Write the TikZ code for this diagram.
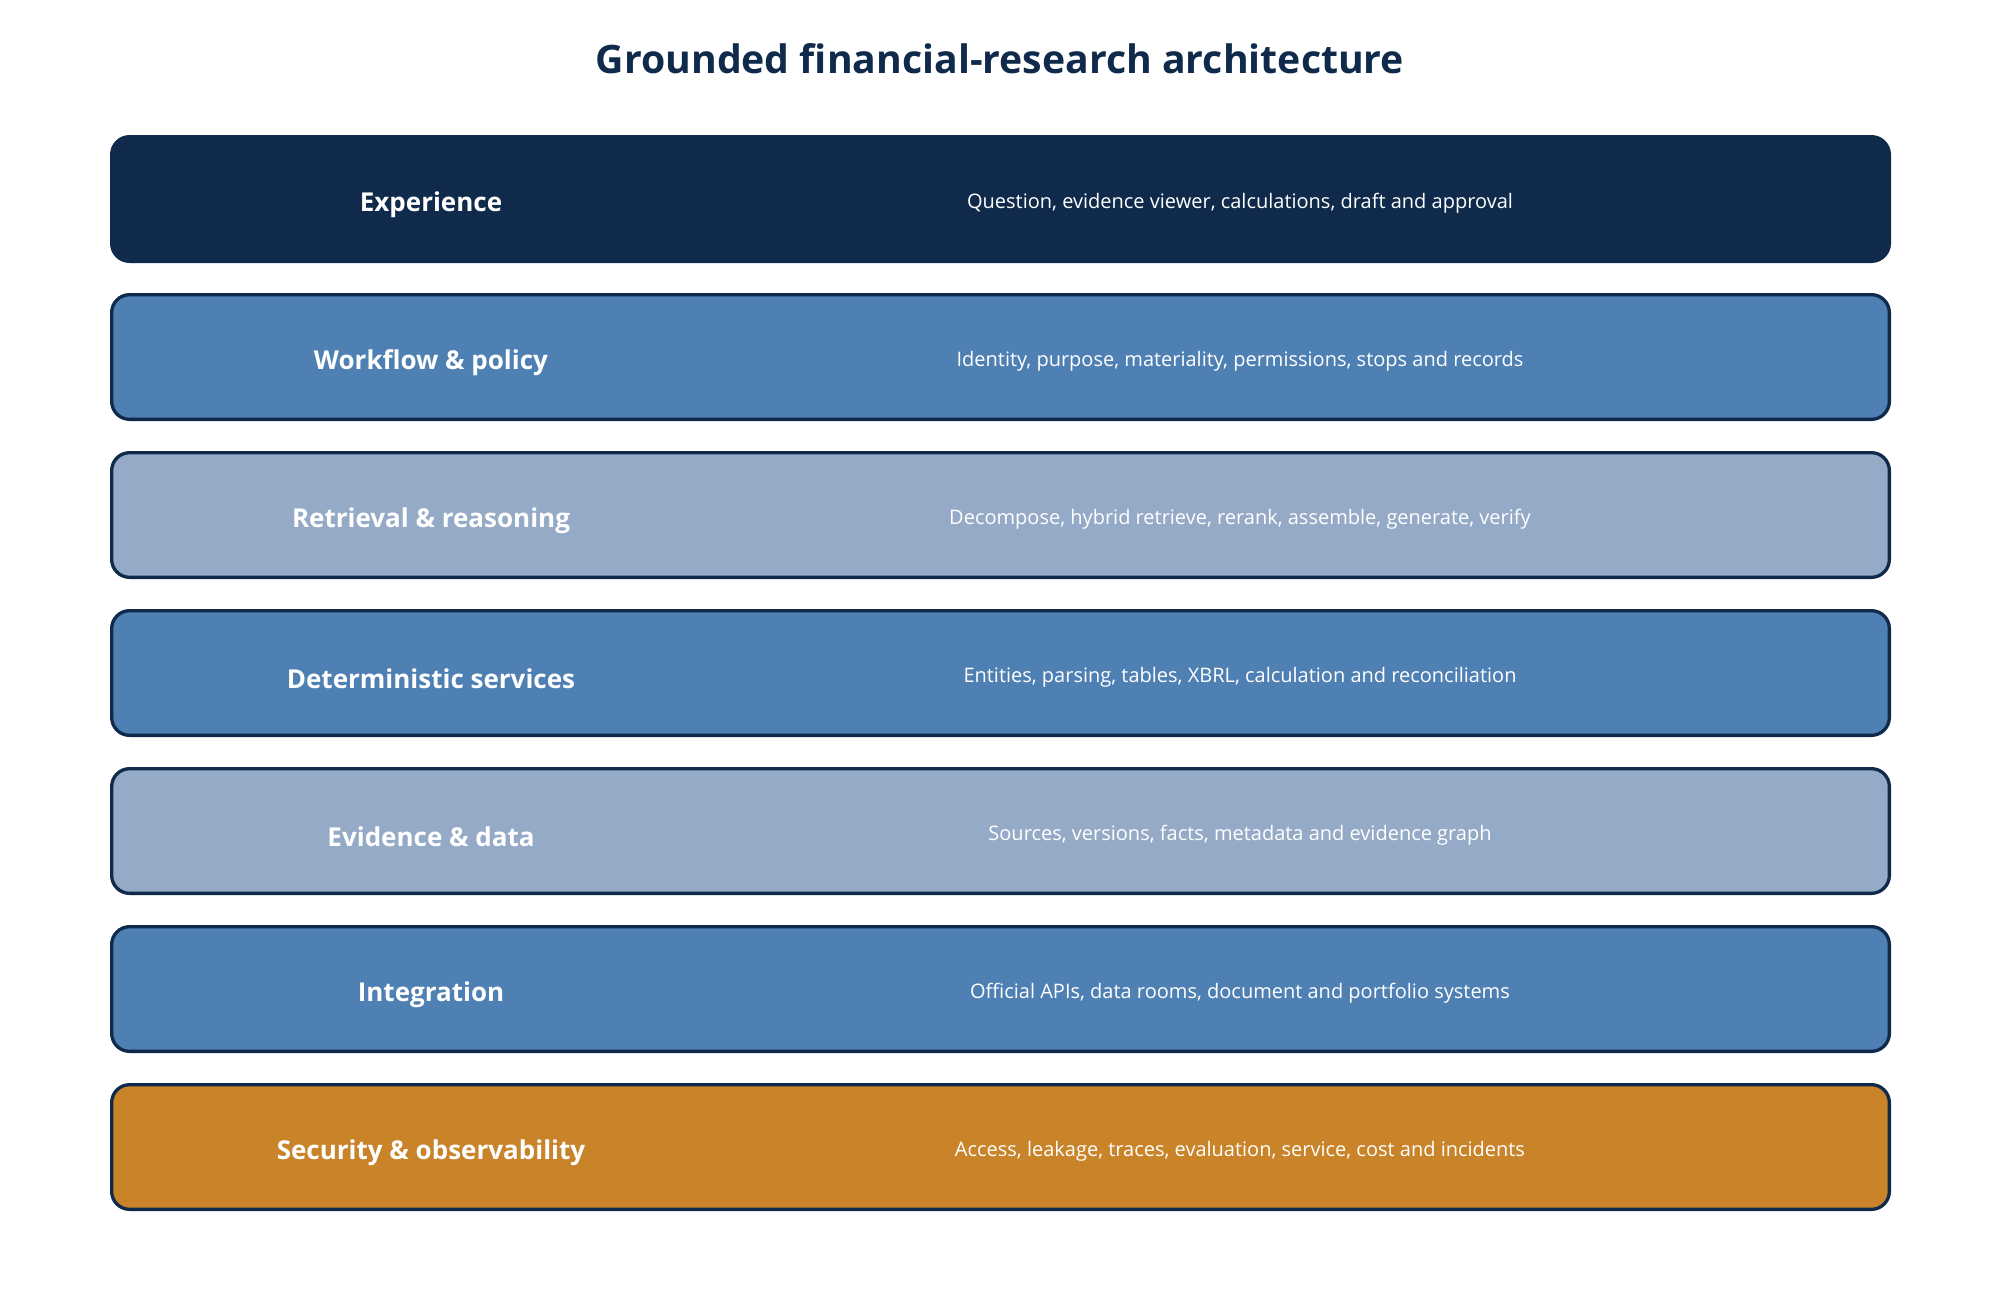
\documentclass[tikz,border=0pt]{standalone}
\usepackage{fontspec}
\setmainfont{Open Sans}
\definecolor{navy}{HTML}{0F2A4A}
\definecolor{midblue}{HTML}{4E80B3}
\definecolor{lightblue}{HTML}{95AAC6}
\definecolor{amber}{HTML}{C98329}
\begin{document}
\begin{tikzpicture}[x=0.5pt,y=-0.5pt,
  layer/.style={draw=navy, line width=1.65pt, rounded corners=9pt,
    minimum width=888.85pt, minimum height=62.35pt, inner sep=0pt},
  layername/.style={text=white, font=\fontsize{13pt}{15pt}\selectfont\bfseries, anchor=center},
  layerdesc/.style={text=white, font=\fontsize{10pt}{12pt}\selectfont, anchor=center},
  titletext/.style={text=navy, font=\fontsize{19.6pt}{23pt}\selectfont\bfseries}
]
\useasboundingbox[fill=white] (0,0) rectangle (2000,1290);
\node[titletext] (title) at (1000,59) {Grounded financial-research architecture};

\node[layer, fill=navy] (l1) at (1000.5,199) {};
\node[layer, fill=midblue] (l2) at (1000.5,357) {};
\node[layer, fill=lightblue] (l3) at (1000.5,515) {};
\node[layer, fill=midblue] (l4) at (1000.5,673) {};
\node[layer, fill=lightblue] (l5) at (1000.5,831) {};
\node[layer, fill=midblue] (l6) at (1000.5,989) {};
\node[layer, fill=amber] (l7) at (1000.5,1147) {};

\node[layername] (n1) at (431,205) {Experience};
\node[layername] (n2) at (431,363) {Workflow \& policy};
\node[layername] (n3) at (431,521) {Retrieval \& reasoning};
\node[layername] (n4) at (431,679) {Deterministic services};
\node[layername] (n5) at (431,837) {Evidence \& data};
\node[layername] (n6) at (431,995) {Integration};
\node[layername] (n7) at (431,1153) {Security \& observability};

\node[layerdesc] (d1) at (1240,203) {Question, evidence viewer, calculations, draft and approval};
\node[layerdesc] (d2) at (1240,361) {Identity, purpose, materiality, permissions, stops and records};
\node[layerdesc] (d3) at (1240,519) {Decompose, hybrid retrieve, rerank, assemble, generate, verify};
\node[layerdesc] (d4) at (1240,677) {Entities, parsing, tables, XBRL, calculation and reconciliation};
\node[layerdesc] (d5) at (1240,835) {Sources, versions, facts, metadata and evidence graph};
\node[layerdesc] (d6) at (1240,993) {Official APIs, data rooms, document and portfolio systems};
\node[layerdesc] (d7) at (1240,1151) {Access, leakage, traces, evaluation, service, cost and incidents};
\end{tikzpicture}
\end{document}
